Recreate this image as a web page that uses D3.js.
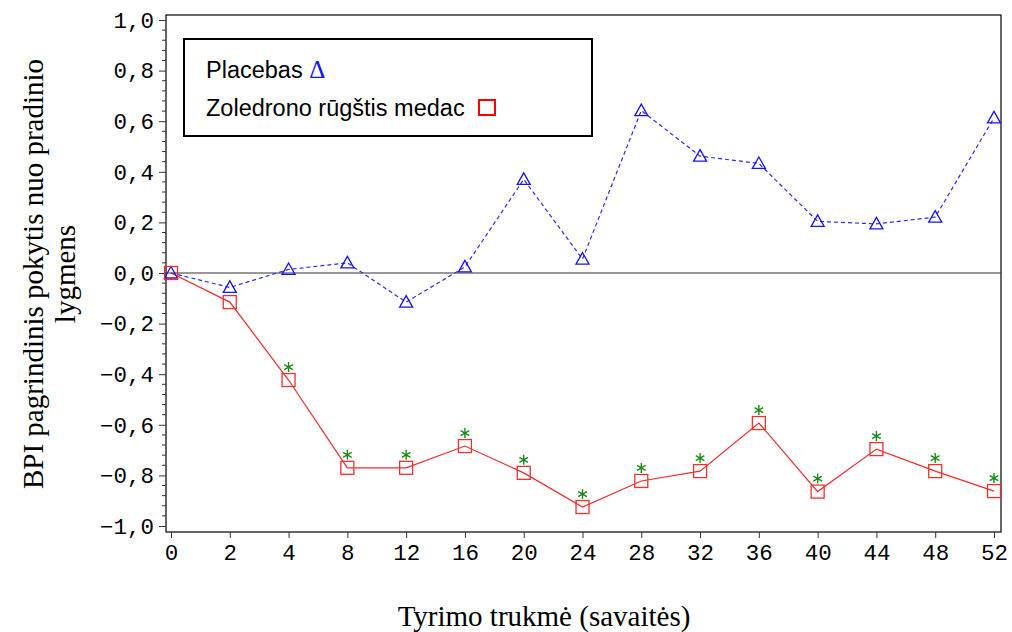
<!DOCTYPE html>
<html>
<head>
<meta charset="utf-8">
<script src="https://cdn.jsdelivr.net/npm/d3@7"></script>
<style>
  html, body { margin: 0; padding: 0; background: #fff; }
  svg { display: block; }
</style>
</head>
<body>
<svg id="chart" width="1012" height="632"></svg>
<script>
const weeks = ["0","2","4","8","12","16","20","24","28","32","36","40","44","48","52"];
const placebo = [0.0, -0.057, 0.014, 0.04, -0.115, 0.024, 0.37, 0.055, 0.642, 0.462, 0.433, 0.204, 0.194, 0.221, 0.613];
const zoledronic = [0.0, -0.115, -0.423, -0.77, -0.77, -0.684, -0.79, -0.925, -0.822, -0.783, -0.593, -0.864, -0.696, -0.783, -0.862];
const significant = [false, false, true, true, true, true, true, true, true, true, true, true, true, true, true];
const yTickValues = [-1.0, -0.8, -0.6, -0.4, -0.2, 0.0, 0.2, 0.4, 0.6, 0.8, 1.0];
const legendLabels = ["Placebas", "Zoledrono rūgštis medac"];
const yTitle = ["BPI pagrindinis pokytis nuo pradinio", "lygmens"];
const xTitle = "Tyrimo trukmė (savaitės)";

const svg = d3.select("#chart");
const frame = {left: 166, right: 1001, top: 15, bottom: 532};

const x = d3.scalePoint().domain(weeks).range([171, 994]);
const y = d3.scaleLinear().domain([-1, 1]).range([526, 20]);

const fmt = v => {
  const s = Math.abs(v).toFixed(1).replace(".", ",");
  return (v < -1e-9 ? "\u2212" : "") + s;
};

// frame
svg.append("rect")
  .attr("x", frame.left).attr("y", frame.top)
  .attr("width", frame.right - frame.left).attr("height", frame.bottom - frame.top)
  .attr("fill", "none").attr("stroke", "#000").attr("stroke-width", 1.2);

// y axis
const yAxis = d3.axisLeft(y).tickValues(yTickValues).tickFormat(fmt).tickSize(7).tickPadding(5);
const gy = svg.append("g").attr("transform", `translate(${frame.left},0)`).call(yAxis);
gy.select(".domain").remove();
gy.selectAll("text").attr("font-family", "Liberation Mono").attr("font-size", 22.5).attr("fill", "#000");
gy.selectAll("line").attr("stroke", "#333");
// minor ticks
const minor = d3.range(-1, 1.0001, 0.04).filter(v => !yTickValues.some(t => Math.abs(t - v) < 1e-6));
svg.append("g").selectAll("line").data(minor).join("line")
  .attr("x1", frame.left - 4).attr("x2", frame.left)
  .attr("y1", d => y(d)).attr("y2", d => y(d))
  .attr("stroke", "#333").attr("stroke-width", 1);

// x axis
const xAxis = d3.axisBottom(x).tickSize(6).tickPadding(6);
const gx = svg.append("g").attr("transform", `translate(0,${frame.bottom})`).call(xAxis);
gx.select(".domain").remove();
gx.selectAll("text").attr("font-family", "Liberation Mono").attr("font-size", 22.5).attr("fill", "#000");
gx.selectAll("line").attr("stroke", "#333");

// zero line
svg.append("line")
  .attr("x1", frame.left).attr("x2", frame.right)
  .attr("y1", y(0)).attr("y2", y(0))
  .attr("stroke", "#333").attr("stroke-width", 1.2);

// placebo line
const linePl = d3.line().x((d, i) => x(weeks[i])).y(d => y(d));
svg.append("path").datum(placebo)
  .attr("d", linePl).attr("fill", "none")
  .attr("stroke", "#2a2af5").attr("stroke-width", 1.2).attr("stroke-dasharray", "4,3");

// zoledronic line
svg.append("path").datum(zoledronic)
  .attr("d", linePl).attr("fill", "none")
  .attr("stroke", "#f52a2a").attr("stroke-width", 1.2);

// triangle markers
const tri = "M0,-6.5L6.5,5L-6.5,5Z";
svg.append("g").selectAll("path").data(placebo).join("path")
  .attr("transform", (d, i) => `translate(${x(weeks[i])},${y(d)})`)
  .attr("d", tri).attr("fill", "none").attr("stroke", "#1414f0").attr("stroke-width", 1.3);

// square markers
svg.append("g").selectAll("rect").data(zoledronic).join("rect")
  .attr("x", (d, i) => x(weeks[i]) - 6.5).attr("y", d => y(d) - 6.5)
  .attr("width", 13).attr("height", 13)
  .attr("fill", "none").attr("stroke", "#f03030").attr("stroke-width", 1.3);

// significance asterisks
const ast = d3.symbol().type(d3.symbolAsterisk).size(70)();
svg.append("g").selectAll("path").data(zoledronic.map((v, i) => ({v, i})).filter(d => significant[d.i])).join("path")
  .attr("transform", d => `translate(${x(weeks[d.i])},${y(d.v) - 13})`)
  .attr("d", ast).attr("fill", "none").attr("stroke", "#1a8a1a").attr("stroke-width", 1.4);

// legend
svg.append("rect").attr("x", 184).attr("y", 39).attr("width", 408).attr("height", 97)
  .attr("fill", "#fff").attr("stroke", "#000").attr("stroke-width", 2);
const l1 = svg.append("text").attr("x", 206).attr("y", 78)
  .attr("font-family", "Liberation Sans").attr("font-size", 23.5).attr("fill", "#000");
l1.append("tspan").text(legendLabels[0] + " ");
l1.append("tspan").attr("fill", "#1414f0").attr("font-family", "Liberation Serif").attr("font-size", 25).text("\u0394");
svg.append("text").attr("x", 206).attr("y", 116)
  .attr("font-family", "Liberation Sans").attr("font-size", 23.5).attr("fill", "#000")
  .text(legendLabels[1]);
svg.append("rect").attr("x", 479).attr("y", 100).attr("width", 16).attr("height", 15)
  .attr("fill", "none").attr("stroke", "#f00").attr("stroke-width", 2);

// axis titles
const yt = svg.append("text")
  .attr("transform", "translate(0,274) rotate(-90)")
  .attr("text-anchor", "middle")
  .attr("font-family", "Liberation Serif").attr("font-size", 29).attr("fill", "#000");
yt.append("tspan").attr("x", 0).attr("y", 43).text(yTitle[0]);
yt.append("tspan").attr("x", 0).attr("y", 75).text(yTitle[1]);

svg.append("text").attr("x", 544).attr("y", 626).attr("text-anchor", "middle")
  .attr("font-family", "Liberation Serif").attr("font-size", 29).attr("fill", "#000")
  .text(xTitle);
</script>
</body>
</html>
